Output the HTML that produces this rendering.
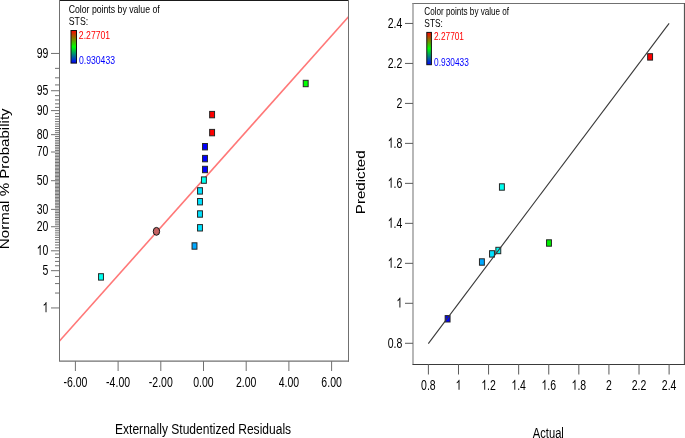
<!DOCTYPE html>
<html><head><meta charset="utf-8"><style>html,body{margin:0;padding:0;background:#fff;overflow:hidden}svg{display:block;will-change:transform}text{font-family:"Liberation Sans",sans-serif}</style></head>
<body><svg width="685" height="438" viewBox="0 0 685 438" font-family="Liberation Sans, sans-serif">
<defs><linearGradient id="grad" x1="0" y1="0" x2="0" y2="1"><stop offset="0" stop-color="#ff0000"/><stop offset="0.5" stop-color="#00ff00"/><stop offset="1" stop-color="#0000ff"/></linearGradient></defs>
<rect width="685" height="438" fill="#fff"/>
<line x1="59.5" y1="341" x2="348.5" y2="16.8" stroke="#ff7878" stroke-width="1.6"/>
<line x1="59.5" y1="0.5" x2="348.5" y2="0.5" stroke="#1a1a1a" stroke-width="1"/>
<line x1="59.5" y1="0" x2="59.5" y2="361.6" stroke="#707070" stroke-width="1"/>
<line x1="348.5" y1="0" x2="348.5" y2="361.6" stroke="#707070" stroke-width="1"/>
<line x1="59.5" y1="361.1" x2="349.0" y2="361.1" stroke="#707070" stroke-width="1.4"/>
<line x1="75.39999999999998" y1="361.1" x2="75.39999999999998" y2="371" stroke="#707070" stroke-width="1"/>
<g transform="translate(63.42,386.60) scale(0.7400,1)"><text font-size="14.2" fill="#000">-6.00</text></g>
<line x1="118.1" y1="361.1" x2="118.1" y2="371" stroke="#707070" stroke-width="1"/>
<g transform="translate(106.12,386.60) scale(0.7400,1)"><text font-size="14.2" fill="#000">-4.00</text></g>
<line x1="160.8" y1="361.1" x2="160.8" y2="371" stroke="#707070" stroke-width="1"/>
<g transform="translate(148.82,386.60) scale(0.7400,1)"><text font-size="14.2" fill="#000">-2.00</text></g>
<line x1="203.5" y1="361.1" x2="203.5" y2="371" stroke="#707070" stroke-width="1"/>
<g transform="translate(193.27,386.60) scale(0.7400,1)"><text font-size="14.2" fill="#000">0.00</text></g>
<line x1="246.2" y1="361.1" x2="246.2" y2="371" stroke="#707070" stroke-width="1"/>
<g transform="translate(235.97,386.60) scale(0.7400,1)"><text font-size="14.2" fill="#000">2.00</text></g>
<line x1="288.9" y1="361.1" x2="288.9" y2="371" stroke="#707070" stroke-width="1"/>
<g transform="translate(278.67,386.60) scale(0.7400,1)"><text font-size="14.2" fill="#000">4.00</text></g>
<line x1="331.6" y1="361.1" x2="331.6" y2="371" stroke="#707070" stroke-width="1"/>
<g transform="translate(321.37,386.60) scale(0.7400,1)"><text font-size="14.2" fill="#000">6.00</text></g>
<line x1="51" y1="307.951228710034" x2="59.5" y2="307.951228710034" stroke="#707070" stroke-width="1"/>
<g transform="translate(42.56,312.25) scale(0.7400,1)"><path transform="translate(0.000,0) scale(0.006934,-0.006934)" d="M763 0H583V1147C520 1087 437 1027 334 967C280 936 223 930 223 930V1104C370 1173 484 1255 566 1350C620 1410 640 1440 647 1466H763Z" fill="#000"/></g>
<line x1="55" y1="293.0400654115607" x2="59.5" y2="293.0400654115607" stroke="#707070" stroke-width="1"/>
<line x1="55" y1="283.5794103658734" x2="59.5" y2="283.5794103658734" stroke="#707070" stroke-width="1"/>
<line x1="55" y1="276.46252809749365" x2="59.5" y2="276.46252809749365" stroke="#707070" stroke-width="1"/>
<line x1="51" y1="270.67349339424555" x2="59.5" y2="270.67349339424555" stroke="#707070" stroke-width="1"/>
<g transform="translate(42.56,274.97) scale(0.7400,1)"><text font-size="14.2" fill="#000">5</text></g>
<line x1="55" y1="265.74611562444784" x2="59.5" y2="265.74611562444784" stroke="#707070" stroke-width="1"/>
<line x1="55" y1="261.4257692414006" x2="59.5" y2="261.4257692414006" stroke="#707070" stroke-width="1"/>
<line x1="55" y1="257.55741434893685" x2="59.5" y2="257.55741434893685" stroke="#707070" stroke-width="1"/>
<line x1="55" y1="254.03930034285486" x2="59.5" y2="254.03930034285486" stroke="#707070" stroke-width="1"/>
<line x1="51" y1="250.80087063528964" x2="59.5" y2="250.80087063528964" stroke="#707070" stroke-width="1"/>
<g transform="translate(36.71,255.10) scale(0.7400,1)"><path transform="translate(0.000,0) scale(0.006934,-0.006934)" d="M763 0H583V1147C520 1087 437 1027 334 967C280 936 223 930 223 930V1104C370 1173 484 1255 566 1350C620 1410 640 1440 647 1466H763Z" fill="#000"/><text x="7.897" font-size="14.2" fill="#000">0</text></g>
<line x1="55" y1="247.79108816600257" x2="59.5" y2="247.79108816600257" stroke="#707070" stroke-width="1"/>
<line x1="55" y1="244.9717775260151" x2="59.5" y2="244.9717775260151" stroke="#707070" stroke-width="1"/>
<line x1="55" y1="242.31359475842237" x2="59.5" y2="242.31359475842237" stroke="#707070" stroke-width="1"/>
<line x1="55" y1="239.7934679425781" x2="59.5" y2="239.7934679425781" stroke="#707070" stroke-width="1"/>
<line x1="55" y1="237.39290640531027" x2="59.5" y2="237.39290640531027" stroke="#707070" stroke-width="1"/>
<line x1="55" y1="235.09684621157348" x2="59.5" y2="235.09684621157348" stroke="#707070" stroke-width="1"/>
<line x1="55" y1="232.8928393470968" x2="59.5" y2="232.8928393470968" stroke="#707070" stroke-width="1"/>
<line x1="55" y1="230.77047030500194" x2="59.5" y2="230.77047030500194" stroke="#707070" stroke-width="1"/>
<line x1="55" y1="228.7209273393022" x2="59.5" y2="228.7209273393022" stroke="#707070" stroke-width="1"/>
<line x1="51" y1="226.7366814764384" x2="59.5" y2="226.7366814764384" stroke="#707070" stroke-width="1"/>
<g transform="translate(36.71,231.04) scale(0.7400,1)"><text font-size="14.2" fill="#000">20</text></g>
<line x1="55" y1="224.81124221189773" x2="59.5" y2="224.81124221189773" stroke="#707070" stroke-width="1"/>
<line x1="55" y1="222.93896881612105" x2="59.5" y2="222.93896881612105" stroke="#707070" stroke-width="1"/>
<line x1="55" y1="221.1149226504312" x2="59.5" y2="221.1149226504312" stroke="#707070" stroke-width="1"/>
<line x1="55" y1="219.33475018735277" x2="59.5" y2="219.33475018735277" stroke="#707070" stroke-width="1"/>
<line x1="55" y1="217.59458933572566" x2="59.5" y2="217.59458933572566" stroke="#707070" stroke-width="1"/>
<line x1="55" y1="215.89099367499256" x2="59.5" y2="215.89099367499256" stroke="#707070" stroke-width="1"/>
<line x1="55" y1="214.2208706086095" x2="59.5" y2="214.2208706086095" stroke="#707070" stroke-width="1"/>
<line x1="55" y1="212.58143044773553" x2="59.5" y2="212.58143044773553" stroke="#707070" stroke-width="1"/>
<line x1="55" y1="210.9701441596953" x2="59.5" y2="210.9701441596953" stroke="#707070" stroke-width="1"/>
<line x1="51" y1="209.38470804512983" x2="59.5" y2="209.38470804512983" stroke="#707070" stroke-width="1"/>
<g transform="translate(36.71,213.68) scale(0.7400,1)"><text font-size="14.2" fill="#000">30</text></g>
<line x1="55" y1="207.82301399990567" x2="59.5" y2="207.82301399990567" stroke="#707070" stroke-width="1"/>
<line x1="55" y1="206.2831243115636" x2="59.5" y2="206.2831243115636" stroke="#707070" stroke-width="1"/>
<line x1="55" y1="204.76325016232587" x2="59.5" y2="204.76325016232587" stroke="#707070" stroke-width="1"/>
<line x1="55" y1="203.26173318044482" x2="59.5" y2="203.26173318044482" stroke="#707070" stroke-width="1"/>
<line x1="55" y1="201.77702951249393" x2="59.5" y2="201.77702951249393" stroke="#707070" stroke-width="1"/>
<line x1="55" y1="200.30769599084027" x2="59.5" y2="200.30769599084027" stroke="#707070" stroke-width="1"/>
<line x1="55" y1="198.85237805009385" x2="59.5" y2="198.85237805009385" stroke="#707070" stroke-width="1"/>
<line x1="55" y1="197.40979910903704" x2="59.5" y2="197.40979910903704" stroke="#707070" stroke-width="1"/>
<line x1="55" y1="195.97875118427572" x2="59.5" y2="195.97875118427572" stroke="#707070" stroke-width="1"/>
<line x1="55" y1="194.55808654152824" x2="59.5" y2="194.55808654152824" stroke="#707070" stroke-width="1"/>
<line x1="55" y1="193.14671022227085" x2="59.5" y2="193.14671022227085" stroke="#707070" stroke-width="1"/>
<line x1="55" y1="191.74357330905923" x2="59.5" y2="191.74357330905923" stroke="#707070" stroke-width="1"/>
<line x1="55" y1="190.34766681351311" x2="59.5" y2="190.34766681351311" stroke="#707070" stroke-width="1"/>
<line x1="55" y1="188.9580160876737" x2="59.5" y2="188.9580160876737" stroke="#707070" stroke-width="1"/>
<line x1="55" y1="187.57367567297254" x2="59.5" y2="187.57367567297254" stroke="#707070" stroke-width="1"/>
<line x1="55" y1="186.1937245119774" x2="59.5" y2="186.1937245119774" stroke="#707070" stroke-width="1"/>
<line x1="55" y1="184.81726145686068" x2="59.5" y2="184.81726145686068" stroke="#707070" stroke-width="1"/>
<line x1="55" y1="183.44340101552092" x2="59.5" y2="183.44340101552092" stroke="#707070" stroke-width="1"/>
<line x1="55" y1="182.07126928175148" x2="59.5" y2="182.07126928175148" stroke="#707070" stroke-width="1"/>
<line x1="51" y1="180.7" x2="59.5" y2="180.7" stroke="#707070" stroke-width="1"/>
<g transform="translate(36.71,185.00) scale(0.7400,1)"><text font-size="14.2" fill="#000">50</text></g>
<line x1="55" y1="179.3287307182485" x2="59.5" y2="179.3287307182485" stroke="#707070" stroke-width="1"/>
<line x1="55" y1="177.95659898447906" x2="59.5" y2="177.95659898447906" stroke="#707070" stroke-width="1"/>
<line x1="55" y1="176.5827385431393" x2="59.5" y2="176.5827385431393" stroke="#707070" stroke-width="1"/>
<line x1="55" y1="175.20627548802258" x2="59.5" y2="175.20627548802258" stroke="#707070" stroke-width="1"/>
<line x1="55" y1="173.82632432702744" x2="59.5" y2="173.82632432702744" stroke="#707070" stroke-width="1"/>
<line x1="55" y1="172.44198391232626" x2="59.5" y2="172.44198391232626" stroke="#707070" stroke-width="1"/>
<line x1="55" y1="171.0523331864869" x2="59.5" y2="171.0523331864869" stroke="#707070" stroke-width="1"/>
<line x1="55" y1="169.65642669094075" x2="59.5" y2="169.65642669094075" stroke="#707070" stroke-width="1"/>
<line x1="55" y1="168.25328977772912" x2="59.5" y2="168.25328977772912" stroke="#707070" stroke-width="1"/>
<line x1="55" y1="166.84191345847174" x2="59.5" y2="166.84191345847174" stroke="#707070" stroke-width="1"/>
<line x1="55" y1="165.42124881572425" x2="59.5" y2="165.42124881572425" stroke="#707070" stroke-width="1"/>
<line x1="55" y1="163.99020089096294" x2="59.5" y2="163.99020089096294" stroke="#707070" stroke-width="1"/>
<line x1="55" y1="162.54762194990613" x2="59.5" y2="162.54762194990613" stroke="#707070" stroke-width="1"/>
<line x1="55" y1="161.0923040091597" x2="59.5" y2="161.0923040091597" stroke="#707070" stroke-width="1"/>
<line x1="55" y1="159.62297048750605" x2="59.5" y2="159.62297048750605" stroke="#707070" stroke-width="1"/>
<line x1="55" y1="158.13826681955516" x2="59.5" y2="158.13826681955516" stroke="#707070" stroke-width="1"/>
<line x1="55" y1="156.6367498376741" x2="59.5" y2="156.6367498376741" stroke="#707070" stroke-width="1"/>
<line x1="55" y1="155.11687568843638" x2="59.5" y2="155.11687568843638" stroke="#707070" stroke-width="1"/>
<line x1="55" y1="153.5769860000943" x2="59.5" y2="153.5769860000943" stroke="#707070" stroke-width="1"/>
<line x1="51" y1="152.01529195487015" x2="59.5" y2="152.01529195487015" stroke="#707070" stroke-width="1"/>
<g transform="translate(36.71,156.32) scale(0.7400,1)"><text font-size="14.2" fill="#000">70</text></g>
<line x1="55" y1="150.4298558403047" x2="59.5" y2="150.4298558403047" stroke="#707070" stroke-width="1"/>
<line x1="55" y1="148.81856955226445" x2="59.5" y2="148.81856955226445" stroke="#707070" stroke-width="1"/>
<line x1="55" y1="147.1791293913905" x2="59.5" y2="147.1791293913905" stroke="#707070" stroke-width="1"/>
<line x1="55" y1="145.50900632500742" x2="59.5" y2="145.50900632500742" stroke="#707070" stroke-width="1"/>
<line x1="55" y1="143.80541066427432" x2="59.5" y2="143.80541066427432" stroke="#707070" stroke-width="1"/>
<line x1="55" y1="142.0652498126472" x2="59.5" y2="142.0652498126472" stroke="#707070" stroke-width="1"/>
<line x1="55" y1="140.28507734956878" x2="59.5" y2="140.28507734956878" stroke="#707070" stroke-width="1"/>
<line x1="55" y1="138.46103118387893" x2="59.5" y2="138.46103118387893" stroke="#707070" stroke-width="1"/>
<line x1="55" y1="136.58875778810224" x2="59.5" y2="136.58875778810224" stroke="#707070" stroke-width="1"/>
<line x1="51" y1="134.66331852356157" x2="59.5" y2="134.66331852356157" stroke="#707070" stroke-width="1"/>
<g transform="translate(36.71,138.96) scale(0.7400,1)"><text font-size="14.2" fill="#000">80</text></g>
<line x1="55" y1="132.67907266069778" x2="59.5" y2="132.67907266069778" stroke="#707070" stroke-width="1"/>
<line x1="55" y1="130.62952969499807" x2="59.5" y2="130.62952969499807" stroke="#707070" stroke-width="1"/>
<line x1="55" y1="128.50716065290317" x2="59.5" y2="128.50716065290317" stroke="#707070" stroke-width="1"/>
<line x1="55" y1="126.3031537884265" x2="59.5" y2="126.3031537884265" stroke="#707070" stroke-width="1"/>
<line x1="55" y1="124.0070935946897" x2="59.5" y2="124.0070935946897" stroke="#707070" stroke-width="1"/>
<line x1="55" y1="121.60653205742189" x2="59.5" y2="121.60653205742189" stroke="#707070" stroke-width="1"/>
<line x1="55" y1="119.08640524157761" x2="59.5" y2="119.08640524157761" stroke="#707070" stroke-width="1"/>
<line x1="55" y1="116.42822247398486" x2="59.5" y2="116.42822247398486" stroke="#707070" stroke-width="1"/>
<line x1="55" y1="113.6089118339974" x2="59.5" y2="113.6089118339974" stroke="#707070" stroke-width="1"/>
<line x1="51" y1="110.59912936471032" x2="59.5" y2="110.59912936471032" stroke="#707070" stroke-width="1"/>
<g transform="translate(36.71,114.90) scale(0.7400,1)"><text font-size="14.2" fill="#000">90</text></g>
<line x1="55" y1="107.36069965714513" x2="59.5" y2="107.36069965714513" stroke="#707070" stroke-width="1"/>
<line x1="55" y1="103.84258565106308" x2="59.5" y2="103.84258565106308" stroke="#707070" stroke-width="1"/>
<line x1="55" y1="99.97423075859933" x2="59.5" y2="99.97423075859933" stroke="#707070" stroke-width="1"/>
<line x1="55" y1="95.65388437555214" x2="59.5" y2="95.65388437555214" stroke="#707070" stroke-width="1"/>
<line x1="51" y1="90.7265066057545" x2="59.5" y2="90.7265066057545" stroke="#707070" stroke-width="1"/>
<g transform="translate(36.71,95.03) scale(0.7400,1)"><text font-size="14.2" fill="#000">95</text></g>
<line x1="55" y1="84.93747190250632" x2="59.5" y2="84.93747190250632" stroke="#707070" stroke-width="1"/>
<line x1="55" y1="77.82058963412659" x2="59.5" y2="77.82058963412659" stroke="#707070" stroke-width="1"/>
<line x1="55" y1="68.35993458843932" x2="59.5" y2="68.35993458843932" stroke="#707070" stroke-width="1"/>
<line x1="51" y1="53.44877128996599" x2="59.5" y2="53.44877128996599" stroke="#707070" stroke-width="1"/>
<g transform="translate(36.71,57.75) scale(0.7400,1)"><text font-size="14.2" fill="#000">99</text></g>
<text transform="translate(9.30,249.15) scale(0.8000,1) rotate(-90)" font-size="15.10" fill="#000">Normal % Probability</text>
<text transform="translate(115.01,434.20) scale(0.8149,1)" font-size="14.8" fill="#000">Externally Studentized Residuals</text>
<rect x="209.65" y="111.40" width="4.9" height="6.4" fill="#ff0000" stroke="#262626" stroke-width="1"/>
<rect x="209.65" y="129.40" width="4.9" height="6.4" fill="#ff0000" stroke="#262626" stroke-width="1"/>
<rect x="202.55" y="143.50" width="4.9" height="6.4" fill="#0000ff" stroke="#262626" stroke-width="1"/>
<rect x="202.55" y="155.40" width="4.9" height="6.4" fill="#0000ff" stroke="#262626" stroke-width="1"/>
<rect x="202.55" y="166.30" width="4.9" height="6.4" fill="#0000ff" stroke="#262626" stroke-width="1"/>
<rect x="201.45" y="176.90" width="4.9" height="6.4" fill="#00fff0" stroke="#262626" stroke-width="1"/>
<rect x="197.55" y="187.70" width="4.9" height="6.4" fill="#00e2ff" stroke="#262626" stroke-width="1"/>
<rect x="197.55" y="198.50" width="4.9" height="6.4" fill="#00e2ff" stroke="#262626" stroke-width="1"/>
<rect x="197.55" y="210.80" width="4.9" height="6.4" fill="#00e2ff" stroke="#262626" stroke-width="1"/>
<rect x="197.55" y="224.60" width="4.9" height="6.4" fill="#00e2ff" stroke="#262626" stroke-width="1"/>
<rect x="192.05" y="242.80" width="4.9" height="6.4" fill="#00a8ff" stroke="#262626" stroke-width="1"/>
<rect x="98.55" y="273.70" width="4.9" height="6.4" fill="#00fff0" stroke="#262626" stroke-width="1"/>
<rect x="303.25" y="80.30" width="4.9" height="6.4" fill="#00ff00" stroke="#262626" stroke-width="1"/>
<ellipse cx="156.45" cy="231.35" rx="3.2" ry="3.95" fill="#c46262" stroke="#151515" stroke-width="1"/>
<text transform="translate(68.66,12.90) scale(0.8082,1)" font-size="10.8" fill="#000">Color points by value of</text>
<text transform="translate(68.71,25.20) scale(0.8117,1)" font-size="10.8" fill="#000">STS:</text>
<rect x="71.0" y="30.5" width="5.5" height="32.6" fill="url(#grad)" stroke="#111" stroke-width="1"/>
<text transform="translate(78.87,38.90) scale(0.8034,1)" font-size="10.8" fill="#ff0000">2.27701</text>
<text transform="translate(78.95,64.10) scale(0.8019,1)" font-size="10.8" fill="#0000ff">0.930433</text>
<line x1="412.4" y1="3.5" x2="685.0" y2="3.5" stroke="#707070" stroke-width="1"/>
<line x1="413" y1="3" x2="413" y2="364" stroke="#888" stroke-width="1.2"/>
<line x1="684.5" y1="3" x2="684.5" y2="364" stroke="#555" stroke-width="1.2"/>
<line x1="412.4" y1="364.5" x2="685.0" y2="364.5" stroke="#3a3a3a" stroke-width="1"/>
<line x1="428.4" y1="364" x2="428.4" y2="374.5" stroke="#5a5a5a" stroke-width="1"/>
<g transform="translate(421.10,389.80) scale(0.7400,1)"><text font-size="14.2" fill="#000">0.8</text></g>
<line x1="405" y1="343.28999999999996" x2="413" y2="343.28999999999996" stroke="#5a5a5a" stroke-width="1"/>
<g transform="translate(387.69,347.59) scale(0.7400,1)"><text font-size="14.2" fill="#000">0.8</text></g>
<line x1="458.48799999999994" y1="364" x2="458.48799999999994" y2="374.5" stroke="#5a5a5a" stroke-width="1"/>
<g transform="translate(455.57,389.80) scale(0.7400,1)"><path transform="translate(0.000,0) scale(0.006934,-0.006934)" d="M763 0H583V1147C520 1087 437 1027 334 967C280 936 223 930 223 930V1104C370 1173 484 1255 566 1350C620 1410 640 1440 647 1466H763Z" fill="#000"/></g>
<line x1="405" y1="303.31" x2="413" y2="303.31" stroke="#5a5a5a" stroke-width="1"/>
<g transform="translate(396.46,307.61) scale(0.7400,1)"><path transform="translate(0.000,0) scale(0.006934,-0.006934)" d="M763 0H583V1147C520 1087 437 1027 334 967C280 936 223 930 223 930V1104C370 1173 484 1255 566 1350C620 1410 640 1440 647 1466H763Z" fill="#000"/></g>
<line x1="488.57599999999996" y1="364" x2="488.57599999999996" y2="374.5" stroke="#5a5a5a" stroke-width="1"/>
<g transform="translate(481.27,389.80) scale(0.7400,1)"><path transform="translate(0.000,0) scale(0.006934,-0.006934)" d="M763 0H583V1147C520 1087 437 1027 334 967C280 936 223 930 223 930V1104C370 1173 484 1255 566 1350C620 1410 640 1440 647 1466H763Z" fill="#000"/><text x="7.897" font-size="14.2" fill="#000">.2</text></g>
<line x1="405" y1="263.33" x2="413" y2="263.33" stroke="#5a5a5a" stroke-width="1"/>
<g transform="translate(387.69,267.63) scale(0.7400,1)"><path transform="translate(0.000,0) scale(0.006934,-0.006934)" d="M763 0H583V1147C520 1087 437 1027 334 967C280 936 223 930 223 930V1104C370 1173 484 1255 566 1350C620 1410 640 1440 647 1466H763Z" fill="#000"/><text x="7.897" font-size="14.2" fill="#000">.2</text></g>
<line x1="518.664" y1="364" x2="518.664" y2="374.5" stroke="#5a5a5a" stroke-width="1"/>
<g transform="translate(511.36,389.80) scale(0.7400,1)"><path transform="translate(0.000,0) scale(0.006934,-0.006934)" d="M763 0H583V1147C520 1087 437 1027 334 967C280 936 223 930 223 930V1104C370 1173 484 1255 566 1350C620 1410 640 1440 647 1466H763Z" fill="#000"/><text x="7.897" font-size="14.2" fill="#000">.4</text></g>
<line x1="405" y1="223.35" x2="413" y2="223.35" stroke="#5a5a5a" stroke-width="1"/>
<g transform="translate(387.69,227.65) scale(0.7400,1)"><path transform="translate(0.000,0) scale(0.006934,-0.006934)" d="M763 0H583V1147C520 1087 437 1027 334 967C280 936 223 930 223 930V1104C370 1173 484 1255 566 1350C620 1410 640 1440 647 1466H763Z" fill="#000"/><text x="7.897" font-size="14.2" fill="#000">.4</text></g>
<line x1="548.752" y1="364" x2="548.752" y2="374.5" stroke="#5a5a5a" stroke-width="1"/>
<g transform="translate(541.45,389.80) scale(0.7400,1)"><path transform="translate(0.000,0) scale(0.006934,-0.006934)" d="M763 0H583V1147C520 1087 437 1027 334 967C280 936 223 930 223 930V1104C370 1173 484 1255 566 1350C620 1410 640 1440 647 1466H763Z" fill="#000"/><text x="7.897" font-size="14.2" fill="#000">.6</text></g>
<line x1="405" y1="183.36999999999995" x2="413" y2="183.36999999999995" stroke="#5a5a5a" stroke-width="1"/>
<g transform="translate(387.69,187.67) scale(0.7400,1)"><path transform="translate(0.000,0) scale(0.006934,-0.006934)" d="M763 0H583V1147C520 1087 437 1027 334 967C280 936 223 930 223 930V1104C370 1173 484 1255 566 1350C620 1410 640 1440 647 1466H763Z" fill="#000"/><text x="7.897" font-size="14.2" fill="#000">.6</text></g>
<line x1="578.8399999999999" y1="364" x2="578.8399999999999" y2="374.5" stroke="#5a5a5a" stroke-width="1"/>
<g transform="translate(571.54,389.80) scale(0.7400,1)"><path transform="translate(0.000,0) scale(0.006934,-0.006934)" d="M763 0H583V1147C520 1087 437 1027 334 967C280 936 223 930 223 930V1104C370 1173 484 1255 566 1350C620 1410 640 1440 647 1466H763Z" fill="#000"/><text x="7.897" font-size="14.2" fill="#000">.8</text></g>
<line x1="405" y1="143.39" x2="413" y2="143.39" stroke="#5a5a5a" stroke-width="1"/>
<g transform="translate(387.69,147.69) scale(0.7400,1)"><path transform="translate(0.000,0) scale(0.006934,-0.006934)" d="M763 0H583V1147C520 1087 437 1027 334 967C280 936 223 930 223 930V1104C370 1173 484 1255 566 1350C620 1410 640 1440 647 1466H763Z" fill="#000"/><text x="7.897" font-size="14.2" fill="#000">.8</text></g>
<line x1="608.928" y1="364" x2="608.928" y2="374.5" stroke="#5a5a5a" stroke-width="1"/>
<g transform="translate(606.01,389.80) scale(0.7400,1)"><text font-size="14.2" fill="#000">2</text></g>
<line x1="405" y1="103.40999999999998" x2="413" y2="103.40999999999998" stroke="#5a5a5a" stroke-width="1"/>
<g transform="translate(396.46,107.71) scale(0.7400,1)"><text font-size="14.2" fill="#000">2</text></g>
<line x1="639.016" y1="364" x2="639.016" y2="374.5" stroke="#5a5a5a" stroke-width="1"/>
<g transform="translate(631.71,389.80) scale(0.7400,1)"><text font-size="14.2" fill="#000">2.2</text></g>
<line x1="405" y1="63.42999999999995" x2="413" y2="63.42999999999995" stroke="#5a5a5a" stroke-width="1"/>
<g transform="translate(387.69,67.73) scale(0.7400,1)"><text font-size="14.2" fill="#000">2.2</text></g>
<line x1="669.1039999999999" y1="364" x2="669.1039999999999" y2="374.5" stroke="#5a5a5a" stroke-width="1"/>
<g transform="translate(661.80,389.80) scale(0.7400,1)"><text font-size="14.2" fill="#000">2.4</text></g>
<line x1="405" y1="23.45" x2="413" y2="23.45" stroke="#5a5a5a" stroke-width="1"/>
<g transform="translate(387.69,27.75) scale(0.7400,1)"><text font-size="14.2" fill="#000">2.4</text></g>
<text transform="translate(365.40,214.15) scale(0.8000,1) rotate(-90)" font-size="15.11" fill="#000">Predicted</text>
<text transform="translate(532.77,437.60) scale(0.7555,1)" font-size="14.8" fill="#000">Actual</text>
<rect x="445.15" y="315.60" width="4.9" height="6.4" fill="#0000ff" stroke="#262626" stroke-width="1"/>
<rect x="479.45" y="258.80" width="4.9" height="6.4" fill="#00a8ff" stroke="#262626" stroke-width="1"/>
<rect x="489.55" y="250.70" width="4.9" height="6.4" fill="#00e2ff" stroke="#262626" stroke-width="1"/>
<rect x="495.85" y="247.30" width="4.9" height="6.4" fill="#00f6ee" stroke="#262626" stroke-width="1"/>
<rect x="499.45" y="183.80" width="4.9" height="6.4" fill="#00fff0" stroke="#262626" stroke-width="1"/>
<rect x="546.55" y="239.80" width="4.9" height="6.4" fill="#00ee00" stroke="#262626" stroke-width="1"/>
<rect x="647.65" y="53.70" width="4.9" height="6.4" fill="#ff0000" stroke="#262626" stroke-width="1"/>
<line x1="428.3" y1="343.6" x2="669.1" y2="23.4" stroke="#383838" stroke-width="1.1"/>
<text transform="translate(424.29,14.80) scale(0.7393,1)" font-size="11" fill="#000">Color points by value of</text>
<text transform="translate(424.32,27.40) scale(0.7621,1)" font-size="11" fill="#000">STS:</text>
<rect x="426.8" y="32.4" width="4.599999999999966" height="32.300000000000004" fill="url(#grad)" stroke="#111" stroke-width="1"/>
<text transform="translate(433.98,40.20) scale(0.7552,1)" font-size="11" fill="#ff0000">2.27701</text>
<text transform="translate(434.07,65.60) scale(0.7562,1)" font-size="11" fill="#0000ff">0.930433</text>
</svg></body></html>
